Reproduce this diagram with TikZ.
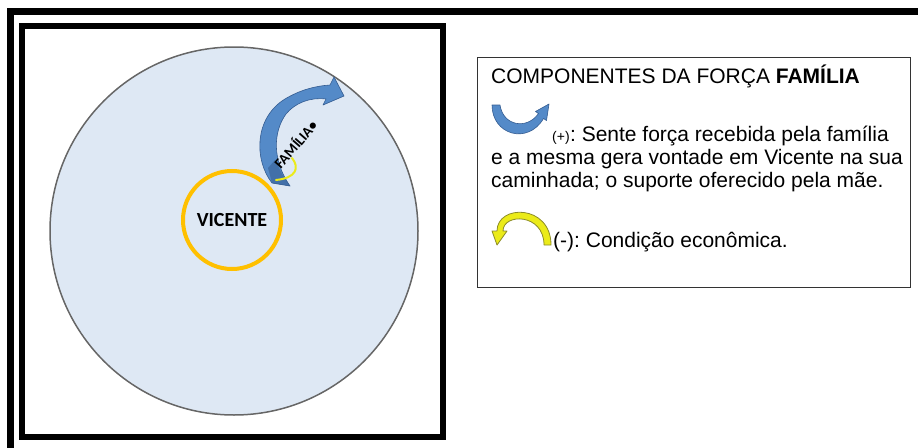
\documentclass[tikz,border=0pt]{standalone}
\usepackage{fontspec}
\setmainfont{Liberation Sans}
\newfontfamily\calibri{Carlito}
\definecolor{bgblue}{RGB}{222,232,244}
\definecolor{vorange}{RGB}{255,192,0}
\definecolor{famblue}{RGB}{84,138,200}
\definecolor{famdark}{RGB}{52,92,145}
\definecolor{negyellow}{RGB}{235,235,25}
\definecolor{negline}{RGB}{140,140,40}
\frenchspacing

\begin{document}
\begin{tikzpicture}[
  x=1pt, y=-1pt,
  frame/.style={draw=black, line width=7pt},
  world/.style={circle, draw=black!60, line width=1.5pt, fill=bgblue, minimum size=368pt, inner sep=0pt},
  self/.style={circle, draw=vorange, line width=4pt, minimum size=98pt, inner sep=0pt, font=\calibri\bfseries\fontsize{20}{24}\selectfont},
  legbox/.style={draw=black!80, line width=1.2pt, minimum width=433pt, minimum height=230pt, anchor=north west, inner sep=0pt},
  txt/.style={anchor=base west, inner sep=0pt, font=\fontsize{21}{25}\selectfont},
  small/.style={anchor=base west, inner sep=0pt, font=\fontsize{14}{16}\selectfont},
  posarrow/.style={fill=famblue, draw=famdark, line width=0.6pt, line join=round},
  negarrow/.style={fill=negyellow, draw=negline, line width=0.8pt, line join=round},
]
\useasboundingbox (0,0) rectangle (918,447);
\clip (0,0) rectangle (918,447);

% ---- frames
\draw[frame] (10.5,470) -- (10.5,11.5) -- (940,11.5);
\draw[frame, line width=6.5pt] (22,26) rectangle (443,437);

% ---- circles
\node[world] (world) at (234,231) {};
\node[self] (vicente) at (232,220) {\raisebox{-4pt}{VICENTE}};

% ---- force arrow
\draw[posarrow] (272,183) .. controls (254,160) and (254,118) .. (285,99)
  .. controls (300,90) and (315,86) .. (330,85) -- (334,77) -- (344,96) -- (323,105) -- (326,99)
  .. controls (310,97) and (295,103) .. (286,114)
  .. controls (273,132) and (272,160) .. (290,186) -- cycle;
\fill[famdark, opacity=0.55] (272,183) -- (268,168) -- (275,160) -- (282,174) -- (290,186) -- cycle;
\draw[negyellow, line width=2pt, line cap=round] (292,158) .. controls (300,168) and (296,178) .. (276,180);
\node[font=\calibri\bfseries\fontsize{14.5}{15}\selectfont, rotate=49, inner sep=0pt] (famlbl) at (295,144) {FAMÍLIA•};

% ---- legend
\node[legbox] (legend) at (477,57) {};
\node[txt] (title) at (491,83) {COMPONENTES DA FORÇA \textbf{FAMÍLIA}};
\draw[posarrow] (492,105) .. controls (492,135) and (528,145) .. (543.5,118.5) -- (546.5,120.5) -- (549,104)
  -- (535.5,111.5) -- (538.5,113.5) .. controls (527,130) and (503,126) .. (500,105) -- cycle;
\node[small] (plus) at (552,141) {(+)};
\node[txt] (pos1) at (plus.base east) {: Sente força recebida pela família};
\node[txt] (pos2) at (491,164) {e a mesma gera vontade em Vicente na sua};
\node[txt] (pos3) at (491,187) {caminhada; o suporte oferecido pela mãe.};
\draw[negarrow] (551,245) .. controls (551,204) and (497,204) .. (497,231) -- (492,231) -- (497,245) -- (507,231)
  -- (503,231) .. controls (503,213) and (544,213) .. (544,245) -- cycle;
\node[txt] (neg1) at (553,247) {(-): Condição econômica.};
\end{tikzpicture}
\end{document}
